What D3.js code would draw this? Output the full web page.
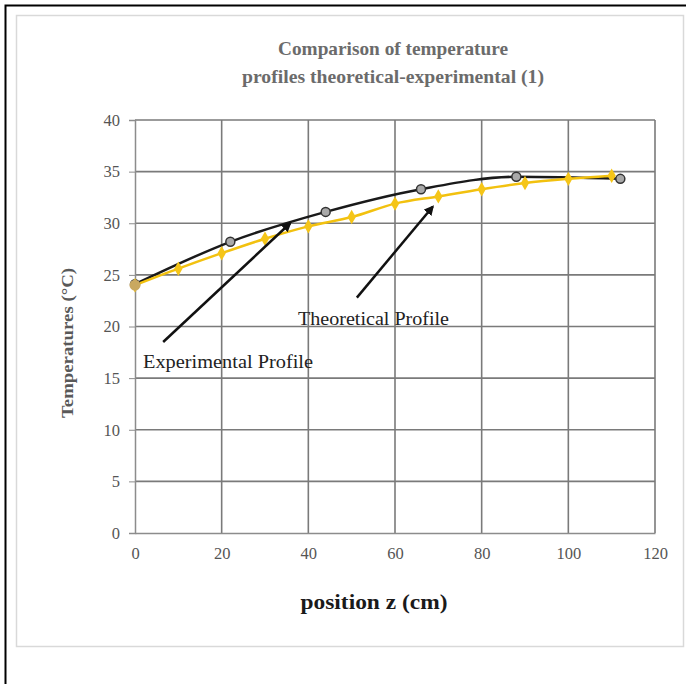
<!DOCTYPE html>
<html>
<head>
<meta charset="utf-8">
<script src="https://cdn.jsdelivr.net/npm/d3@7"></script>
<style>
  body { margin: 0; background: #fff; }
  svg { display: block; }
</style>
</head>
<body>
<div id="chart"></div>
<script>
/* DATA */
const theoX = [0, 10, 20, 30, 40, 50, 60, 70, 80, 90, 100, 110];
const theoY = [24.0, 25.6, 27.1, 28.5, 29.7, 30.6, 31.9, 32.6, 33.3, 33.9, 34.3, 34.6];
const expX = [0, 22, 44, 66, 88, 112];
const expY = [24.1, 28.2, 31.1, 33.3, 34.5, 34.3];
const xTicks = [0, 20, 40, 60, 80, 100, 120];
const yTicks = [0, 5, 10, 15, 20, 25, 30, 35, 40];
const titleLines = ["Comparison of temperature", "profiles theoretical-experimental (1)"];
// annotation arrows in data units: [tailX, tailY, tipX, tipY]
const expArrow = [6.5, 18.5, 35.8, 30.0];
const theoArrow = [51.2, 22.8, 68.7, 31.6];

/* CONSTANTS */
const width = 686, height = 684;
const margin = { top: 120, left: 135, right: 31, bottom: 151 };
const serif = "Liberation Serif, serif";

const svg = d3.select("#chart").append("svg")
  .attr("width", width)
  .attr("height", height);

// outer frame
svg.append("path")
  .attr("d", `M5.5,${height} V5.5 H${width}`)
  .attr("fill", "none")
  .attr("stroke", "#000")
  .attr("stroke-width", 2);

// chart area box
svg.append("rect")
  .attr("x", 16.5).attr("y", 15.5)
  .attr("width", 667).attr("height", 631)
  .attr("fill", "#fff")
  .attr("stroke", "#d9d9d9")
  .attr("stroke-width", 1.5);

const x = d3.scaleLinear().domain([0, 120]).range([margin.left, width - margin.right]);
const y = d3.scaleLinear().domain([0, 40]).range([height - margin.bottom, margin.top]);

// gridlines
svg.append("g")
  .selectAll("line")
  .data(yTicks.slice(1))
  .join("line")
  .attr("x1", x(0)).attr("x2", x(120))
  .attr("y1", d => y(d)).attr("y2", d => y(d))
  .attr("stroke", "#7a7a7a").attr("stroke-width", 1.6);

svg.append("g")
  .selectAll("line")
  .data(xTicks.slice(1))
  .join("line")
  .attr("x1", d => x(d)).attr("x2", d => x(d))
  .attr("y1", y(0)).attr("y2", y(40))
  .attr("stroke", "#7a7a7a").attr("stroke-width", 1.6);

// axes
const xAxis = svg.append("g")
  .attr("transform", `translate(0,${y(0)})`)
  .call(d3.axisBottom(x).tickValues(xTicks).tickSize(0).tickPadding(14));
const yAxis = svg.append("g")
  .attr("transform", `translate(${x(0)},0)`)
  .call(d3.axisLeft(y).tickValues(yTicks).tickSize(6).tickPadding(9));

[xAxis, yAxis].forEach(g => {
  g.select(".domain").attr("stroke", "#8c8c8c").attr("stroke-width", 1.5);
  g.selectAll(".tick line").attr("stroke", "#8c8c8c");
  g.selectAll("text")
    .attr("font-family", serif)
    .attr("font-size", 16.5)
    .attr("fill", "#555");
});

// lines
const theo = theoX.map((d, i) => [d, theoY[i]]);
const exp = expX.map((d, i) => [d, expY[i]]);
const line = d3.line().x(d => x(d[0])).y(d => y(d[1])).curve(d3.curveMonotoneX);

svg.append("path")
  .datum(exp)
  .attr("d", line)
  .attr("fill", "none")
  .attr("stroke", "#1a1a1a")
  .attr("stroke-width", 2.5);

svg.append("path")
  .datum(theo)
  .attr("d", line)
  .attr("fill", "none")
  .attr("stroke", "#f2c10f")
  .attr("stroke-width", 2.5);

svg.append("g")
  .selectAll("circle")
  .data(exp)
  .join("circle")
  .attr("cx", d => x(d[0]))
  .attr("cy", d => y(d[1]))
  .attr("r", 4.5)
  .attr("fill", "#a9a9a9")
  .attr("stroke", "#333")
  .attr("stroke-width", 1.5);

svg.append("g")
  .selectAll("path")
  .data(theo)
  .join("path")
  .attr("transform", d => `translate(${x(d[0])},${y(d[1])})`)
  .attr("d", d3.symbol(d3.symbolDiamond, 60))
  .attr("fill", "#f5c518");

// start point is a mix of both
svg.append("circle")
  .attr("cx", x(theo[0][0])).attr("cy", y(theo[0][1]))
  .attr("r", 5.5).attr("fill", "#c9a860");

// arrows
svg.append("defs").append("marker")
  .attr("id", "head")
  .attr("viewBox", "0 0 10 10")
  .attr("refX", 8).attr("refY", 5)
  .attr("markerWidth", 4).attr("markerHeight", 4)
  .attr("orient", "auto")
  .append("path")
  .attr("d", "M0,0 L10,5 L0,10 z")
  .attr("fill", "#111");

[expArrow, theoArrow].forEach(a => {
  svg.append("line")
    .attr("x1", x(a[0])).attr("y1", y(a[1]))
    .attr("x2", x(a[2])).attr("y2", y(a[3]))
    .attr("stroke", "#111")
    .attr("stroke-width", 2.5)
    .attr("marker-end", "url(#head)");
});

// annotation labels
svg.append("text")
  .attr("x", 143).attr("y", 368)
  .attr("font-family", serif)
  .attr("font-size", 19)
  .attr("fill", "#222")
  .attr("textLength", 170)
  .attr("lengthAdjust", "spacingAndGlyphs")
  .text("Experimental Profile");

svg.append("text")
  .attr("x", 298).attr("y", 325)
  .attr("font-family", serif)
  .attr("font-size", 19)
  .attr("fill", "#222")
  .attr("textLength", 151)
  .attr("lengthAdjust", "spacingAndGlyphs")
  .text("Theoretical Profile");

// title
svg.append("g")
  .selectAll("text")
  .data(titleLines)
  .join("text")
  .attr("x", 393)
  .attr("y", (d, i) => 55 + i * 28)
  .attr("text-anchor", "middle")
  .attr("font-family", serif)
  .attr("font-weight", "bold")
  .attr("font-size", 19)
  .attr("fill", "#6b6b6b")
  .attr("textLength", (d, i) => i === 0 ? 230 : 302)
  .attr("lengthAdjust", "spacingAndGlyphs")
  .text(d => d);

// axis titles
svg.append("text")
  .attr("x", 374).attr("y", 609)
  .attr("text-anchor", "middle")
  .attr("font-family", serif)
  .attr("font-weight", "bold")
  .attr("font-size", 22)
  .attr("fill", "#1a1a1a")
  .attr("textLength", 147)
  .attr("lengthAdjust", "spacingAndGlyphs")
  .text("position  z (cm)");

svg.append("text")
  .attr("transform", "translate(73,343) rotate(-90)")
  .attr("text-anchor", "middle")
  .attr("font-family", serif)
  .attr("font-weight", "bold")
  .attr("font-size", 16)
  .attr("fill", "#595959")
  .attr("textLength", 150)
  .attr("lengthAdjust", "spacingAndGlyphs")
  .text("Temperatures  (°C)");
</script>
</body>
</html>
